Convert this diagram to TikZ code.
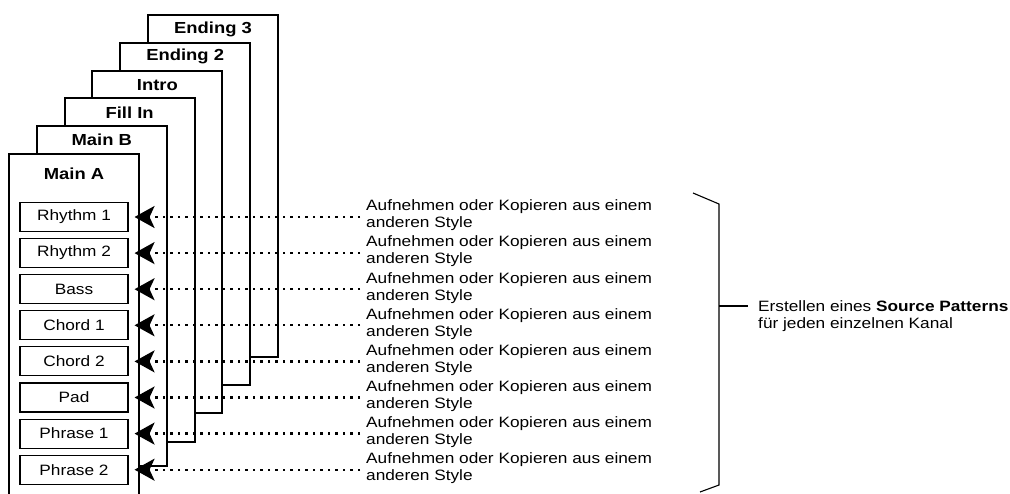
\documentclass[tikz,border=0pt]{standalone}
\usepackage{fontspec}
\setmainfont[FakeStretch=1.15]{Liberation Sans}
\usetikzlibrary{arrows.meta}

\tikzset{
  pframe/.style={draw, fill=white, line width=2pt},
  ptitle/.style={font=\fontsize{16}{18}\selectfont\bfseries, inner sep=0pt},
  chbox/.style={draw, line width=1.1pt, fill=white, minimum width=108pt, minimum height=29pt, inner sep=0pt, font=\fontsize{15}{17}\selectfont},
  note/.style={align=left, inner sep=0pt, font=\fontsize{15}{17}\selectfont},
  feed/.style={line width=2.3pt, dash pattern=on 2.3pt off 5.2pt, shorten <=6pt, -{Stealth[length=20pt,width=22pt,inset=5pt]}},
}

\begin{document}
\begin{tikzpicture}[x=1pt,y=-1pt]
  \useasboundingbox (0,0) rectangle (1010,493);
  \clip (0,0) rectangle (1010,493);
  % Stacked section frames, back to front
  \foreach \k/\nm/\fb/\ty in {5/Ending 3/357/14, 4/Ending 2/385/14, 3/Intro/413/14, 2/Fill In/442/14, 1/Main B/466/14, 0/Main A/520/20}{
    \draw[pframe] ({9+27.8*\k},{154-27.8*\k}) rectangle ({139+27.8*\k},\fb);
    \node[ptitle] (f\k) at ({74+27.8*\k},{154-27.8*\k+\ty}) {\nm};
  }
  % Channels and their source
  \foreach \nm [count=\i] in {Rhythm 1, Rhythm 2, Bass, Chord 1, Chord 2, Pad, Phrase 1, Phrase 2}{
    \node[chbox] (b\i) at (74,{217+36.1*(\i-1)}) {\nm};
    \node[note, anchor=west] (t\i) at (366,{215.5+36.1*(\i-1)}) {Aufnehmen oder Kopieren aus einem\\anderen Style};
    \draw[feed] (b\i.east -| t\i.west) -- ([xshift=6pt]b\i.east);
  }
  % Bracket
  \draw[line width=1.1pt] (693,193) -- (719,204) -- (719,485) -- (700,492);
  \coordinate (bm) at (719,306);
  \node[note, anchor=west] (sum) at (758,316) {Erstellen eines \textbf{Source Patterns}\\für jeden einzelnen Kanal};
  \draw[line width=1.1pt] (bm) -- ([xshift=-10pt]sum.west |- bm);
\end{tikzpicture}
\end{document}
